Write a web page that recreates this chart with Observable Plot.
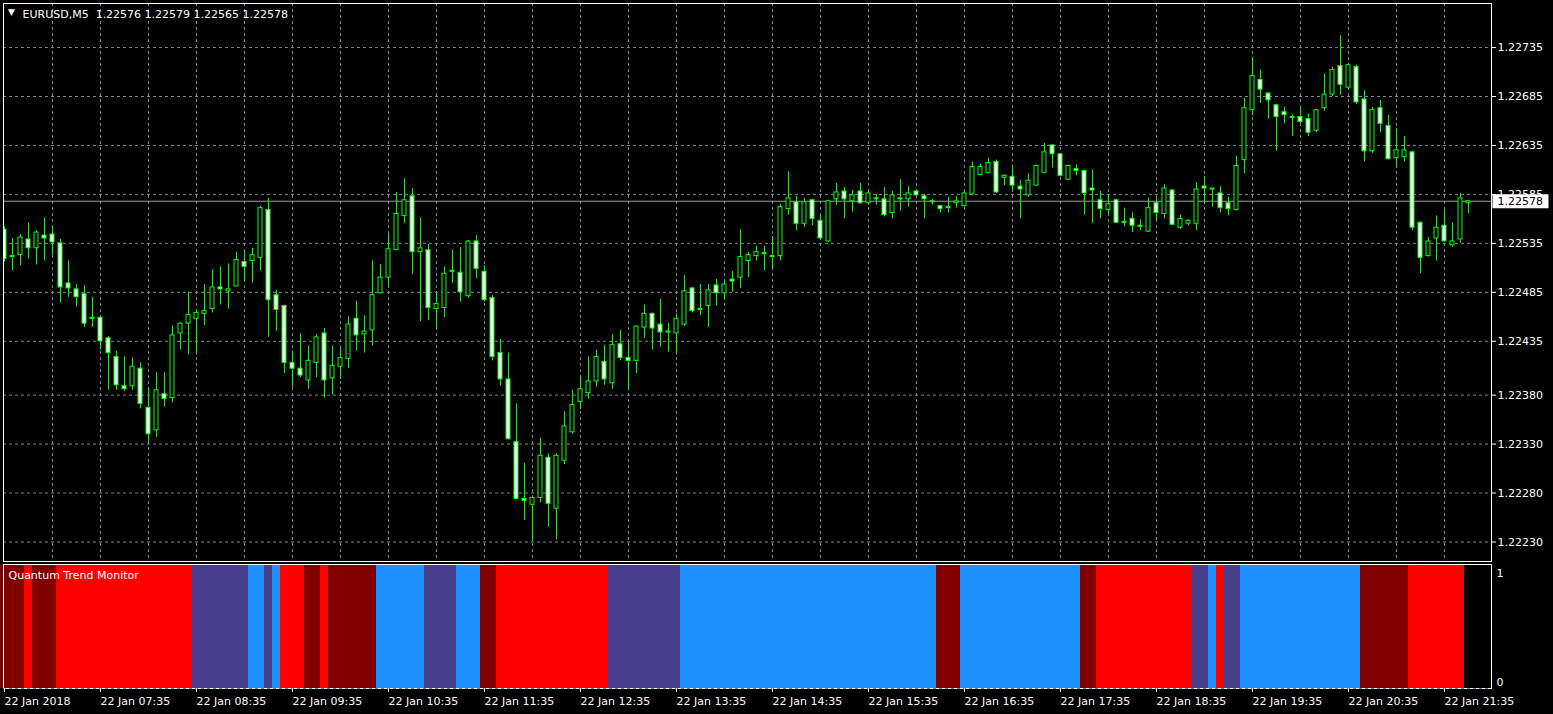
<!DOCTYPE html>
<html><head><meta charset="utf-8">
<script src="https://cdn.jsdelivr.net/npm/d3@7"></script>
<script src="https://cdn.jsdelivr.net/npm/@observablehq/plot@0.6"></script>
<style>
html,body{margin:0;padding:0;background:#000;}
#chart{width:1553px;height:714px;overflow:hidden;background:#000;}
#chart svg{display:block;}
</style></head><body><div id="chart"></div>
<script>
const symbolLabel = "EURUSD,M5";
const lastQuote = ["1.22576", "1.22579", "1.22565", "1.22578"];
const indicatorName = "Quantum Trend Monitor";
const currentPrice = 1.22578;

const open = [1.22549,1.22522,1.22523,1.22539,1.22530,1.22543,1.22544,1.22535,1.22494,1.22488,
1.22483,1.22459,1.22459,1.22438,1.22419,1.22389,1.22389,1.22407,1.22367,1.22344,
1.22381,1.22377,1.22443,1.22453,1.22458,1.22463,1.22468,1.22490,1.22486,1.22491,
1.22516,1.22517,1.22520,1.22569,1.22482,1.22471,1.22413,1.22407,1.22395,1.22413,
1.22443,1.22397,1.22409,1.22417,1.22458,1.22442,1.22446,1.22484,1.22500,1.22528,
1.22563,1.22583,1.22526,1.22528,1.22468,1.22469,1.22507,1.22505,1.22481,1.22537,
1.22506,1.22479,1.22423,1.22396,1.22332,1.22274,1.22268,1.22275,1.22316,1.22264,
1.22313,1.22342,1.22373,1.22382,1.22394,1.22414,1.22392,1.22432,1.22418,1.22415,
1.22449,1.22463,1.22452,1.22445,1.22443,1.22452,1.22489,1.22468,1.22471,1.22492,
1.22484,1.22498,1.22500,1.22517,1.22522,1.22525,1.22522,1.22522,1.22570,1.22577,
1.22555,1.22579,1.22558,1.22537,1.22580,1.22588,1.22578,1.22588,1.22576,1.22581,
1.22580,1.22566,1.22581,1.22580,1.22588,1.22583,1.22578,1.22573,1.22572,1.22576,
1.22573,1.22585,1.22605,1.22607,1.22618,1.22602,1.22603,1.22593,1.22584,1.22594,
1.22607,1.22635,1.22626,1.22600,1.22611,1.22609,1.22591,1.22579,1.22569,1.22579,
1.22557,1.22560,1.22553,1.22547,1.22576,1.22565,1.22589,1.22551,1.22555,1.22555,
1.22593,1.22591,1.22586,1.22576,1.22569,1.22620,1.22671,1.22702,1.22688,1.22676,
1.22669,1.22664,1.22664,1.22662,1.22650,1.22673,1.22687,1.22716,1.22694,1.22715,
1.22682,1.22629,1.22673,1.22655,1.22622,1.22623,1.22628,1.22556,1.22522,1.22540,
1.22553,1.22533,1.22539,1.22576];

const high = [1.22552,1.22540,1.22544,1.22556,1.22548,1.22561,1.22552,1.22539,1.22517,1.22493,
1.22492,1.22480,1.22460,1.22440,1.22425,1.22419,1.22418,1.22413,1.22387,1.22403,
1.22403,1.22451,1.22454,1.22485,1.22466,1.22493,1.22508,1.22511,1.22514,1.22526,
1.22527,1.22530,1.22573,1.22581,1.22487,1.22472,1.22425,1.22443,1.22430,1.22442,
1.22448,1.22430,1.22428,1.22460,1.22476,1.22461,1.22517,1.22513,1.22544,1.22587,
1.22601,1.22591,1.22561,1.22534,1.22485,1.22511,1.22528,1.22531,1.22538,1.22543,
1.22512,1.22482,1.22437,1.22423,1.22371,1.22310,1.22276,1.22336,1.22320,1.22320,
1.22363,1.22385,1.22400,1.22419,1.22426,1.22431,1.22442,1.22446,1.22434,1.22451,
1.22472,1.22464,1.22478,1.22453,1.22463,1.22502,1.22490,1.22493,1.22493,1.22498,
1.22497,1.22506,1.22549,1.22526,1.22532,1.22532,1.22542,1.22575,1.22608,1.22583,
1.22581,1.22580,1.22564,1.22579,1.22596,1.22592,1.22589,1.22596,1.22590,1.22585,
1.22592,1.22588,1.22600,1.22593,1.22589,1.22585,1.22580,1.22574,1.22582,1.22583,
1.22588,1.22618,1.22616,1.22622,1.22620,1.22605,1.22615,1.22599,1.22606,1.22615,
1.22637,1.22636,1.22627,1.22615,1.22615,1.22610,1.22610,1.22588,1.22585,1.22580,
1.22571,1.22566,1.22559,1.22581,1.22581,1.22595,1.22590,1.22564,1.22559,1.22597,
1.22603,1.22591,1.22593,1.22582,1.22624,1.22683,1.22725,1.22712,1.22689,1.22677,
1.22674,1.22666,1.22673,1.22667,1.22672,1.22708,1.22715,1.22747,1.22718,1.22717,
1.22691,1.22674,1.22681,1.22666,1.22652,1.22644,1.22629,1.22557,1.22541,1.22563,
1.22569,1.22556,1.22586,1.22579];

const low = [1.22516,1.22507,1.22512,1.22519,1.22513,1.22517,1.22523,1.22474,1.22480,1.22470,
1.22449,1.22449,1.22426,1.22385,1.22385,1.22384,1.22385,1.22366,1.22331,1.22337,
1.22368,1.22372,1.22426,1.22421,1.22421,1.22451,1.22464,1.22472,1.22468,1.22491,
1.22496,1.22494,1.22507,1.22439,1.22445,1.22402,1.22388,1.22398,1.22386,1.22398,
1.22377,1.22380,1.22396,1.22407,1.22425,1.22423,1.22430,1.22483,1.22491,1.22528,
1.22555,1.22503,1.22455,1.22456,1.22449,1.22459,1.22494,1.22475,1.22479,1.22499,
1.22475,1.22415,1.22389,1.22334,1.22273,1.22252,1.22230,1.22270,1.22245,1.22232,
1.22309,1.22340,1.22365,1.22376,1.22388,1.22390,1.22386,1.22415,1.22385,1.22402,
1.22438,1.22426,1.22429,1.22424,1.22421,1.22450,1.22464,1.22461,1.22449,1.22471,
1.22477,1.22485,1.22489,1.22500,1.22517,1.22507,1.22508,1.22517,1.22564,1.22548,
1.22551,1.22553,1.22539,1.22536,1.22574,1.22560,1.22567,1.22575,1.22574,1.22574,
1.22562,1.22560,1.22568,1.22572,1.22583,1.22560,1.22574,1.22566,1.22566,1.22571,
1.22572,1.22584,1.22604,1.22606,1.22586,1.22594,1.22588,1.22560,1.22582,1.22593,
1.22606,1.22612,1.22603,1.22599,1.22604,1.22564,1.22555,1.22560,1.22564,1.22555,
1.22552,1.22546,1.22548,1.22546,1.22558,1.22560,1.22553,1.22549,1.22553,1.22548,
1.22576,1.22572,1.22566,1.22563,1.22568,1.22606,1.22665,1.22678,1.22662,1.22629,
1.22657,1.22644,1.22657,1.22644,1.22648,1.22670,1.22685,1.22686,1.22691,1.22677,
1.22618,1.22627,1.22648,1.22620,1.22614,1.22618,1.22548,1.22504,1.22521,1.22517,
1.22536,1.22531,1.22535,1.22565];

const close = [1.22519,1.22521,1.22541,1.22530,1.22546,1.22540,1.22536,1.22490,1.22489,1.22480,
1.22453,1.22458,1.22435,1.22423,1.22390,1.22386,1.22409,1.22371,1.22340,1.22385,
1.22376,1.22441,1.22453,1.22462,1.22464,1.22466,1.22490,1.22488,1.22488,1.22518,
1.22511,1.22523,1.22571,1.22477,1.22467,1.22413,1.22407,1.22400,1.22415,1.22439,
1.22395,1.22410,1.22418,1.22452,1.22441,1.22445,1.22482,1.22500,1.22529,1.22565,
1.22579,1.22526,1.22530,1.22469,1.22473,1.22504,1.22506,1.22485,1.22537,1.22509,
1.22477,1.22419,1.22396,1.22335,1.22274,1.22272,1.22275,1.22318,1.22269,1.22318,
1.22348,1.22370,1.22386,1.22394,1.22419,1.22396,1.22431,1.22418,1.22415,1.22450,
1.22463,1.22448,1.22444,1.22444,1.22458,1.22486,1.22466,1.22467,1.22487,1.22484,
1.22493,1.22496,1.22521,1.22523,1.22526,1.22524,1.22521,1.22572,1.22581,1.22555,
1.22577,1.22560,1.22540,1.22578,1.22587,1.22580,1.22584,1.22576,1.22586,1.22580,
1.22564,1.22584,1.22580,1.22586,1.22584,1.22580,1.22577,1.22570,1.22571,1.22578,
1.22586,1.22613,1.22613,1.22617,1.22587,1.22604,1.22594,1.22590,1.22599,1.22614,
1.22628,1.22626,1.22604,1.22614,1.22609,1.22586,1.22589,1.22570,1.22575,1.22556,
1.22556,1.22553,1.22552,1.22571,1.22566,1.22591,1.22554,1.22560,1.22558,1.22590,
1.22591,1.22590,1.22571,1.22570,1.22614,1.22673,1.22706,1.22692,1.22681,1.22664,
1.22666,1.22663,1.22659,1.22648,1.22671,1.22687,1.22712,1.22697,1.22717,1.22679,
1.22629,1.22671,1.22657,1.22621,1.22630,1.22630,1.22551,1.22520,1.22537,1.22551,
1.22537,1.22537,1.22581,1.22578];

// Quantum Trend Monitor: runs of states (bar counts), starting at the first bar
const trendState = ["weakDown","down","weakDown","down","weakUp","up","weakUp","up","down","weakDown",
  "down","weakDown","up","weakUp","up","weakDown","down","weakUp","up","weakDown",
  "up","weakDown","down","weakUp","up","down","weakUp","up","weakDown","down"];
const trendLength = [3,1,3,17,7,2,1,1,3,2,
  1,6,6,4,3,2,14,9,32,3,
  15,2,12,2,1,1,2,15,6,7];
const trendColors = {down: "#ff0000", weakDown: "#800000", weakUp: "#483d8b", up: "#1e90ff"};

const priceTicks = [1.22735,1.22685,1.22635,1.22585,1.22535,1.22485,1.22435,1.22380,1.22330,1.22280,1.22230];
const gridBars = [6,12,18,24,30,36,42,48,54,60,66,72,78,84,90,96,102,108,114,120,126,132,138,144,150,156,162,168,174,180];
const timeTickBars = [0,12,24,36,48,60,72,84,96,108,120,132,144,156,168,180];
const timeTickLabels = ["22 Jan 2018","22 Jan 07:35","22 Jan 08:35","22 Jan 09:35","22 Jan 10:35","22 Jan 11:35",
  "22 Jan 12:35","22 Jan 13:35","22 Jan 14:35","22 Jan 15:35","22 Jan 16:35","22 Jan 17:35",
  "22 Jan 18:35","22 Jan 19:35","22 Jan 20:35","22 Jan 21:35"];

const candles = open.map((o, i) => ({i, open: o, high: high[i], low: low[i], close: close[i]}));
const trendBars = [];
{
  let k = 0;
  trendState.forEach((s, j) => { for (let n = 0; n < trendLength[j]; n++) trendBars.push({i: k++, state: s, value: 1}); });
}

const W = 1553;
const xDomain = [-0.125, 185.875];
const FONT = "'DejaVu Sans', sans-serif";
const GRID = "#778899";
const LIME = "#00ff00";

const mainPlot = Plot.plot({
  width: W, height: 563,
  marginLeft: 3, marginRight: 62, marginTop: 3, marginBottom: 2,
  style: {background: "#000", color: "#fff", fontFamily: FONT, fontSize: "11px", overflow: "visible"},
  x: {type: "linear", domain: xDomain, axis: null},
  y: {domain: [1.2221006, 1.2277999], axis: null},
  marks: [
    Plot.gridY(priceTicks, {stroke: GRID, strokeOpacity: 1, strokeDasharray: "3,3"}),
    Plot.gridX(gridBars, {stroke: GRID, strokeOpacity: 1, strokeDasharray: "3,3"}),
    Plot.ruleY([currentPrice], {stroke: "#a0a0a0"}),
    Plot.ruleX(candles, {x: "i", y1: "low", y2: "high", stroke: LIME, clip: true}),
    Plot.rect(candles, {x1: d => d.i - 0.25, x2: d => d.i + 0.25, y1: "open", y2: "close",
      fill: d => d.close < d.open ? "#ffffff" : "#000000", stroke: LIME, strokeWidth: 1, clip: true}),
    Plot.frame({stroke: "#fff"}),
    Plot.axisY(priceTicks, {anchor: "right", tickSize: 4, tickPadding: 2, textAnchor: "start",
      tickFormat: d => d.toFixed(5), fill: "#fff", stroke: "#fff"}),
    (index, scales, values, dim) => {
      const y = scales.y(currentPrice) + 0.5;
      const g = d3.create("svg:g");
      const x0 = dim.width - dim.marginRight + 1.5;
      g.append("rect").attr("x", x0).attr("y", y - 7).attr("width", 56).attr("height", 14).attr("fill", "#fff");
      g.append("text").attr("x", x0 + 5).attr("y", y).attr("dy", "0.35em").attr("fill", "#000")
        .attr("text-anchor", "start")
        .attr("font-family", FONT).attr("font-size", 11).text(currentPrice.toFixed(5));
      return g.node();
    },
    Plot.text(["\u25BC"], {frameAnchor: "top-left", dx: 8, dy: 9, textAnchor: "middle", lineAnchor: "middle", fontSize: 9, fill: "#fff"}),
    Plot.text([symbolLabel + "\u00a0\u00a0" + lastQuote.join(" ")], {frameAnchor: "top-left", dx: 19, dy: 10.8,
      textAnchor: "start", lineAnchor: "middle", fill: "#fff"})
  ]
});

const indPlot = Plot.plot({
  width: W, height: 151,
  marginLeft: 3, marginRight: 62, marginTop: 1, marginBottom: 26,
  style: {background: "#000", color: "#fff", fontFamily: FONT, fontSize: "11px", overflow: "visible"},
  x: {type: "linear", domain: xDomain, axis: null},
  y: {domain: [0, 1], axis: null},
  marks: [
    Plot.rect(trendBars, {x1: d => d.i - 0.5, x2: d => d.i + 0.5, y1: 0, y2: "value",
      fill: d => trendColors[d.state], shapeRendering: "crispEdges"}),
    Plot.frame({stroke: "#fff"}),
    Plot.ruleY([0], {stroke: GRID, strokeDasharray: "3,3"}),
    Plot.axisX(timeTickBars, {anchor: "bottom", tickSize: 4, tickPadding: 5, textAnchor: "start",
      tickFormat: d => timeTickLabels[timeTickBars.indexOf(d)], fill: "#fff", stroke: "#fff"}),
    Plot.text(["1"], {frameAnchor: "top-right", dx: 5, dy: 8.7, textAnchor: "start", lineAnchor: "middle", fill: "#fff"}),
    Plot.text(["0"], {frameAnchor: "bottom-right", dx: 5, dy: -6.3, textAnchor: "start", lineAnchor: "middle", fill: "#fff"}),
    Plot.text([indicatorName], {frameAnchor: "top-left", dx: 5, dy: 10.7, textAnchor: "start", lineAnchor: "middle", fill: "#fff"})
  ]
});

const root = document.getElementById("chart");
root.appendChild(mainPlot);
root.appendChild(indPlot);
</script>
</body></html>
